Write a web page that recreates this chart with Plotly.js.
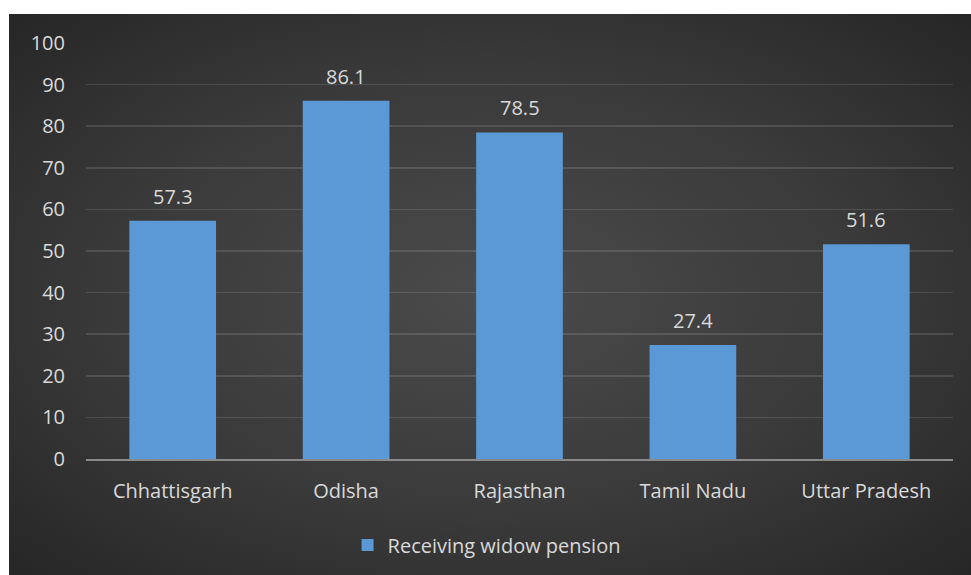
<!DOCTYPE html>
<html><head><meta charset="utf-8">
<script src="https://cdn.plot.ly/plotly-3.0.1.min.js"></script>
<style>
html,body{margin:0;padding:0;background:#fff;width:971px;height:575px;overflow:hidden;}
#chart{position:absolute;left:9px;top:14px;width:962px;height:561px;
background:radial-gradient(ellipse at 50% 50%, #4b4b4b 0%, #3a3a3a 55%, #262626 100%);}
</style></head><body>
<div id="chart"></div>
<script>
const states = ["Chhattisgarh","Odisha","Rajasthan","Tamil Nadu","Uttar Pradesh"];
const widowPension = [57.3, 86.1, 78.5, 27.4, 51.6];
const seriesName = "Receiving widow pension";
const yTicks = [0,10,20,30,40,50,60,70,80,90,100];

const fontFam = "'Open Sans', 'Noto Sans', sans-serif";
const labelAnn = states.map((s,i)=>({
  x:s, y:widowPension[i], text:widowPension[i].toFixed(1), showarrow:false,
  yanchor:'bottom', yshift:9, font:{size:20,color:'#d9d9d9',family:fontFam}
}));
Plotly.newPlot('chart', [{
  type:'bar', x:states, y:widowPension, name:seriesName,
  marker:{color:'#5a99d6'},
  width:0.5,
  showlegend:true
}], {
  width:962, height:561,
  paper_bgcolor:'rgba(0,0,0,0)', plot_bgcolor:'rgba(0,0,0,0)',
  margin:{l:77,r:18,t:29,b:115},
  font:{family:fontFam,color:'#d9d9d9',size:20},
  annotations:labelAnn,
  xaxis:{showgrid:false, showline:true, linecolor:'#8a8a8a', linewidth:1.5, ticks:'',
    tickfont:{size:20,color:'#d9d9d9'}, ticklabelstandoff:13, fixedrange:true},
  yaxis:{range:[0,100], tickvals:yTicks, showgrid:true, gridcolor:'rgba(255,255,255,0.12)', gridwidth:1.5,
    zeroline:false, showline:false, ticks:'', tickfont:{size:20,color:'#d9d9d9'}, ticklen:0, ticklabelstandoff:20},
  bargap:0.5,
  showlegend:true,
  legend:{orientation:'h', x:0.462, xanchor:'center', y:-0.204, yanchor:'middle',
    font:{size:20,color:'#d9d9d9'}, bgcolor:'rgba(0,0,0,0)'}
}, {displayModeBar:false, staticPlot:true});
</script></body></html>
